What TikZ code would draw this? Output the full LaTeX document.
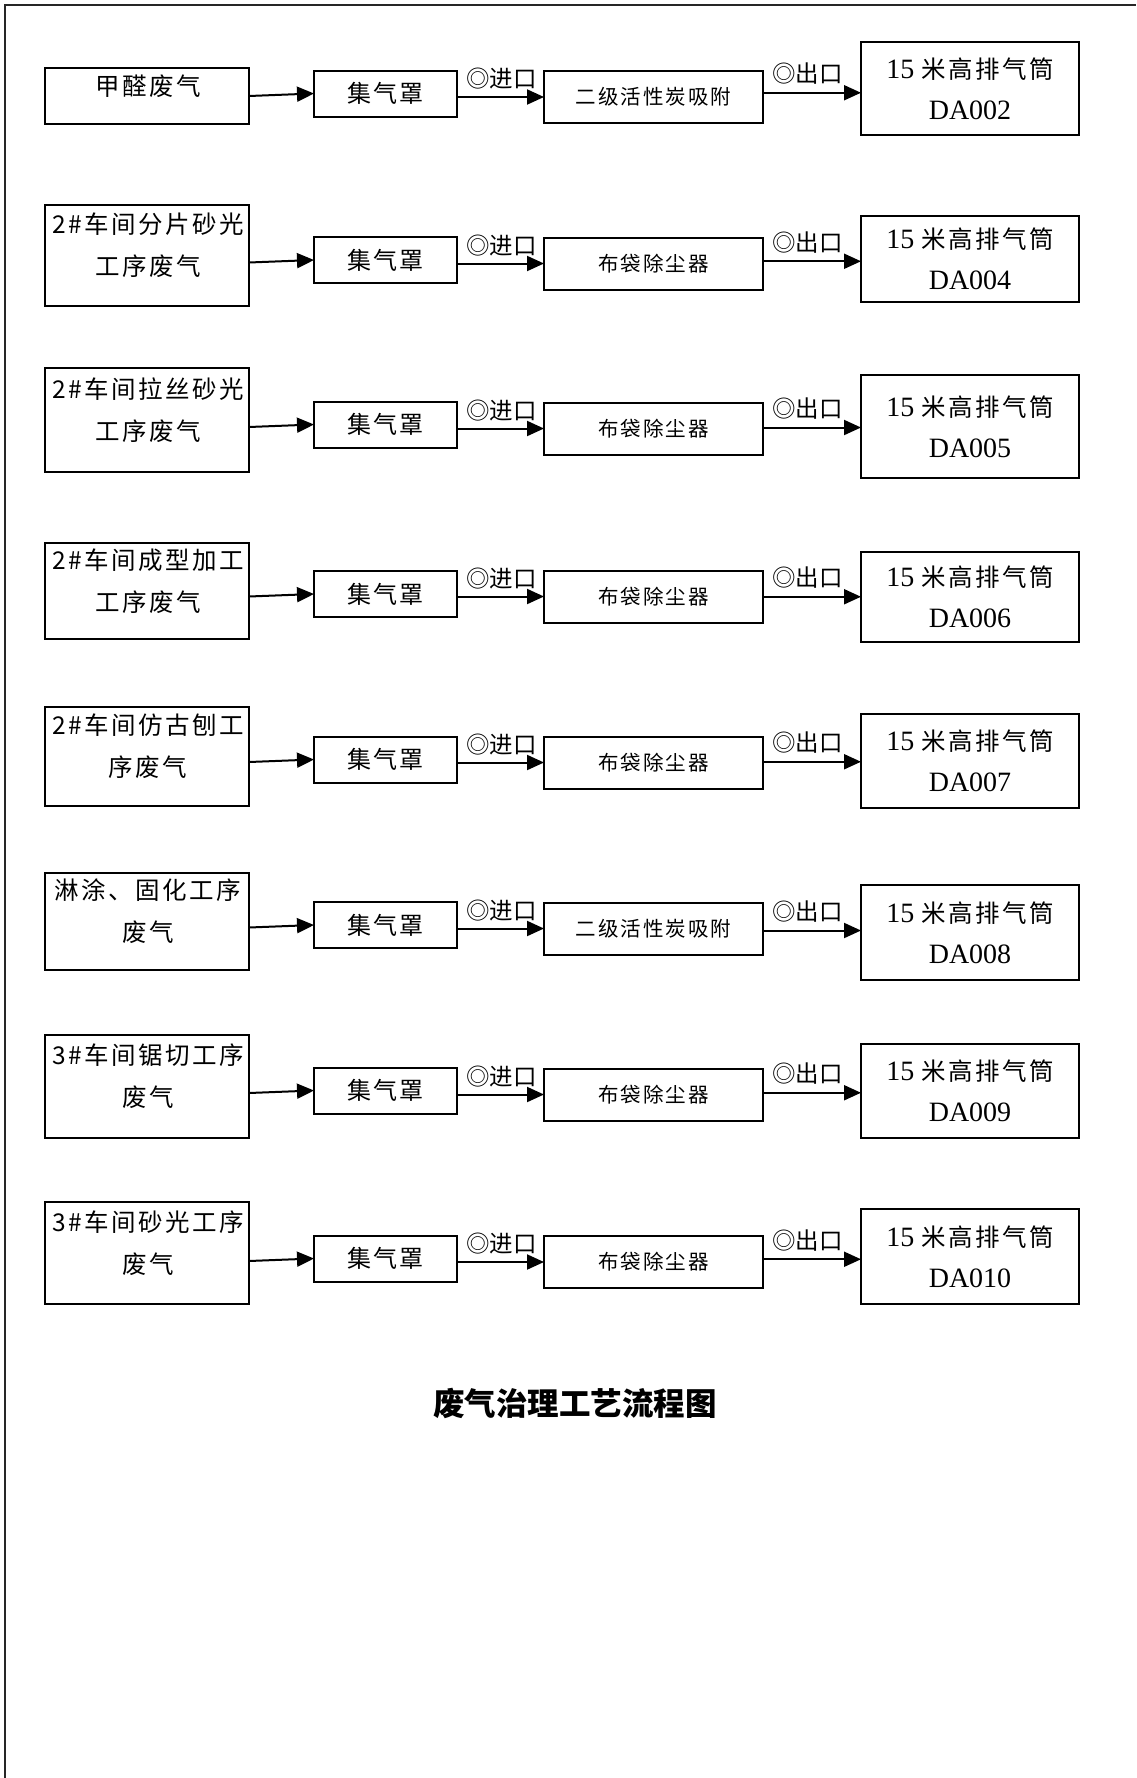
\documentclass[tikz,border=0pt]{standalone}
\usepackage{fontspec}
\setmainfont{Liberation Serif}
\newfontfamily\cjk{Noto Sans CJK SC}
\newfontfamily\cjkls{Noto Sans CJK SC}[LetterSpace=10]
\usetikzlibrary{arrows.meta,calc}
\tikzset{
  box/.style={draw, line width=2pt, rectangle, inner sep=0pt, outer sep=0pt},
  srcbox/.style={box, minimum width=204pt},
  jibox/.style={box, minimum width=143pt, minimum height=46pt, font=\cjkls\fontsize{24}{30}\selectfont},
  trbox/.style={box, minimum width=219pt, minimum height=52pt, font=\cjkls\fontsize{20.5}{26}\selectfont},
  stbox/.style={box, minimum width=218pt, align=center, font=\fontsize{28}{41}\selectfont},
  srctext/.style={align=center, inner sep=0pt, font=\cjkls\fontsize{24.5}{42}\selectfont},
  portlabel/.style={anchor=west, inner sep=0pt, font=\cjk\fontsize{23.5}{26}\selectfont},
  flow/.style={line width=2pt, -{Triangle[length=17pt,width=15pt]}},
  frameline/.style={line width=2pt, black!85},
  titletext/.style={font=\cjk\bfseries\fontsize{31.5}{36}\selectfont}
}
\begin{document}
\begin{tikzpicture}[x=1pt,y=-1pt]
\useasboundingbox (0,0) rectangle (1136,1778);
\draw[frameline] (5,1778) -- (5,5) -- (1136,5);
\foreach \i/\sc/\sh/\stxt/\jc/\tc/\ttxt/\stc/\sth/\code in {
 1/96/56/{甲醛废气}/93.5/97/{二级活性炭吸附}/88.5/93/002,
 2/255.5/101/{2\#车间分片砂光\\工序废气}/260/263.5/{布袋除尘器}/259/86/004,
 3/420/104/{2\#车间拉丝砂光\\工序废气}/424.5/428.5/{布袋除尘器}/426.5/103/005,
 4/591/96/{2\#车间成型加工\\工序废气}/594/596.5/{布袋除尘器}/597/90/006,
 5/756.5/99/{2\#车间仿古刨工\\序废气}/759.5/762.5/{布袋除尘器}/761/94/007,
 6/921.5/97/{淋涂、固化工序\\废气}/925/928.5/{二级活性炭吸附}/932.5/95/008,
 7/1086.5/103/{3\#车间锯切工序\\废气}/1090.5/1094.5/{布袋除尘器}/1091/94/009,
 8/1253/102/{3\#车间砂光工序\\废气}/1258.5/1262/{布袋除尘器}/1256.5/95/010}
{
  \node[srcbox, minimum height=\sh pt] (src\i) at (147,\sc) {};
  \node[srctext] (srct\i) at (148,\sc-10) {\stxt};
  \node[jibox] (ji\i) at (385.5,\jc) {集气罩};
  \node[trbox] (tr\i) at (653.5,\tc) {\ttxt};
  \node[stbox, minimum height=\sth pt] (st\i) at (970,\stc) {15 {\cjkls\fontsize{24.5}{41}\selectfont 米高排气筒}\\DA\code};
  \draw[flow] ($(src\i.east |- ji\i.west)+(0,2.5)$) -- (ji\i.west);
  \draw[flow] (ji\i.east |- tr\i.west) -- (tr\i.west);
  \node[portlabel] (in\i) at ($(ji\i.east |- tr\i.west)+(9,-18)$) {◎进口};
  \coordinate (m\i) at ($(tr\i.east)!0.5!(st\i.west)$);
  \draw[flow] (tr\i.east |- m\i) -- (st\i.west |- m\i);
  \node[portlabel] (out\i) at ($(tr\i.east |- m\i)+(9,-19)$) {◎出口};
}
\node[titletext] (title) at (575,1403) {废气治理工艺流程图};
\end{tikzpicture}
\end{document}
